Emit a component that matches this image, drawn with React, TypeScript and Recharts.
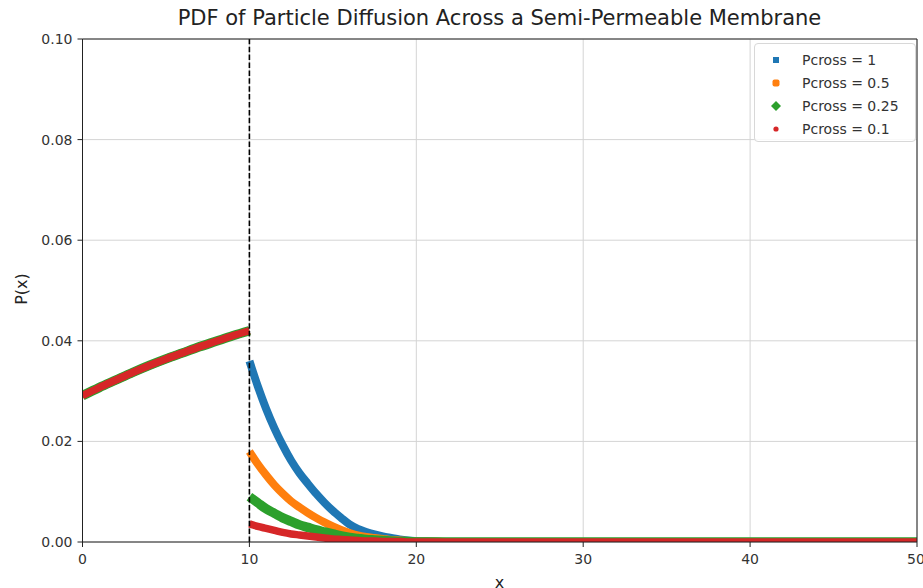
import React from 'react'
import { ComposedChart, Line, XAxis, YAxis, CartesianGrid, ReferenceLine } from 'recharts'

// x grid on each side of the membrane (membrane at x = 10)
const xLeft = [0, 1, 2, 3, 4, 5, 6, 7, 8, 9, 10]
const pdfLeft = [0.0291, 0.0307, 0.0322, 0.0337, 0.0351, 0.0364, 0.0376, 0.0388, 0.0399, 0.041, 0.042]

const xRight = [10, 10.5, 11, 11.5, 12, 12.5, 13, 13.5, 14, 14.5, 15, 15.5, 16, 16.5, 17, 17.5, 18, 18.5, 19, 19.5, 20, 21, 22, 25, 30, 40, 50]
const pcross1 = [0.036, 0.031, 0.0265, 0.0226, 0.0192, 0.0162, 0.0137, 0.0116, 0.0096, 0.0078, 0.0062, 0.0048, 0.0035, 0.0026, 0.002, 0.0015, 0.0011, 0.0008, 0.0005, 0.0003, 0.0002, 0.0001, 0, 0, 0, 0, 0]
const pcross05 = [0.018, 0.0155, 0.0133, 0.0113, 0.0096, 0.0081, 0.0069, 0.0058, 0.0048, 0.0039, 0.0031, 0.0024, 0.0018, 0.0013, 0.001, 0.0008, 0.0006, 0.0004, 0.0003, 0.0002, 0.0001, 0.0001, 0, 0, 0, 0, 0]
const pcross025 = [0.009, 0.0078, 0.0066, 0.0057, 0.0048, 0.0041, 0.0034, 0.0029, 0.0024, 0.002, 0.0016, 0.0012, 0.0009, 0.0007, 0.0005, 0.0004, 0.0003, 0.0002, 0.0001, 0.0001, 0, 0, 0, 0, 0, 0, 0]
const pcross01 = [0.0036, 0.0031, 0.0027, 0.0023, 0.0019, 0.0016, 0.0014, 0.0012, 0.001, 0.0008, 0.0006, 0.0005, 0.0004, 0.0003, 0.0002, 0.0002, 0.0001, 0.0001, 0.0001, 0, 0, 0, 0, 0, 0, 0, 0]

const seriesNames = ['Pcross = 1', 'Pcross = 0.5', 'Pcross = 0.25', 'Pcross = 0.1']
const colors = ['#1f77b4', '#ff7f0e', '#2ca02c', '#d62728']
const widths = [8, 8, 9.5, 7.5]

const xTicks = [0, 10, 20, 30, 40, 50]
const yTicks = [0, 0.02, 0.04, 0.06, 0.08, 0.1]
const membraneX = 10

const leftData = xLeft.map((x, i) => ({ x, p: pdfLeft[i] }))
const rightData = [pcross1, pcross05, pcross025, pcross01].map(vals => xRight.map((x, i) => ({ x, p: vals[i] })))

const font = '"DejaVu Sans", sans-serif'
const tickStyle = { fontSize: 14, fill: '#333', fontFamily: font }

function Marker({ i }: { i: number }) {
  const c = colors[i]
  if (i === 0) return <svg width={14} height={14}><rect x={4} y={4} width={6} height={6} fill={c} /></svg>
  if (i === 1) return <svg width={14} height={14}><rect x={3.5} y={3.5} width={7} height={7} rx={2} fill={c} /></svg>
  if (i === 2) return <svg width={14} height={14}><polygon points="7,2 12,7 7,12 2,7" fill={c} /></svg>
  return <svg width={14} height={14}><circle cx={7} cy={7} r={2.6} fill={c} /></svg>
}

export default function App() {
  return (
    <div style={{ position: 'relative', width: 923, height: 588, fontFamily: font, background: '#fff', overflow: 'hidden' }}>
      <style>{'body{margin:0}'}</style>
      <ComposedChart width={923} height={588} margin={{ top: 39, right: 6, bottom: 0, left: 0 }}>
        <CartesianGrid stroke="#d4d4d4" strokeWidth={1} horizontalValues={yTicks} verticalValues={xTicks} />
        <XAxis type="number" dataKey="x" domain={[0, 50]} ticks={xTicks} allowDataOverflow
          height={46} tick={tickStyle} tickLine={{ stroke: '#222' }} axisLine={{ stroke: '#222' }} tickSize={5} tickMargin={7} />
        <YAxis type="number" dataKey="p" domain={[0, 0.1]} ticks={yTicks} allowDataOverflow
          width={82.5} tick={tickStyle} tickLine={{ stroke: '#222' }} axisLine={{ stroke: '#222' }} tickSize={5} tickMargin={5}
          tickFormatter={(v) => Number(v).toFixed(2)} />
        {seriesNames.map((name, i) => [
          <Line key={name + '-left'} data={leftData} dataKey="p" name={name} type="monotone" stroke={colors[i]}
            strokeWidth={widths[i]} dot={false} activeDot={false} isAnimationActive={false} />,
          <Line key={name + '-right'} data={rightData[i]} dataKey="p" name={name} type="monotone" stroke={colors[i]}
            strokeWidth={widths[i]} dot={false} activeDot={false} isAnimationActive={false} />,
        ])}
        <ReferenceLine x={membraneX} stroke="#000" strokeWidth={1.6} strokeDasharray="5.5 2.4" />
        <ReferenceLine y={0.1} stroke="#222" />
        <ReferenceLine x={50} stroke="#222" />
      </ComposedChart>

      <div style={{ position: 'absolute', top: 6, left: 82, width: 835, textAlign: 'center', fontSize: 21, color: '#222' }}>
        PDF of Particle Diffusion Across a Semi-Permeable Membrane
      </div>
      <div style={{ position: 'absolute', left: 21, top: 289, transform: 'translate(-50%, -50%) rotate(-90deg)', fontSize: 16, color: '#222' }}>
        P(x)
      </div>
      <div style={{ position: 'absolute', top: 573, left: 82, width: 835, textAlign: 'center', fontSize: 16, color: '#222' }}>
        x
      </div>

      <div style={{ position: 'absolute', left: 754, top: 43, width: 162, height: 99, border: '1px solid #d8d8d8', borderRadius: 4, background: 'rgba(255,255,255,0.85)', padding: '4px 0 0 0', boxSizing: 'border-box' }}>
        {seriesNames.map((name, i) => (
          <div key={name} style={{ display: 'flex', alignItems: 'center', height: 23, fontSize: 14, color: '#333' }}>
            <div style={{ width: 14, marginLeft: 14, marginRight: 19, display: 'flex' }}><Marker i={i} /></div>
            <span>{name}</span>
          </div>
        ))}
      </div>
    </div>
  )
}
